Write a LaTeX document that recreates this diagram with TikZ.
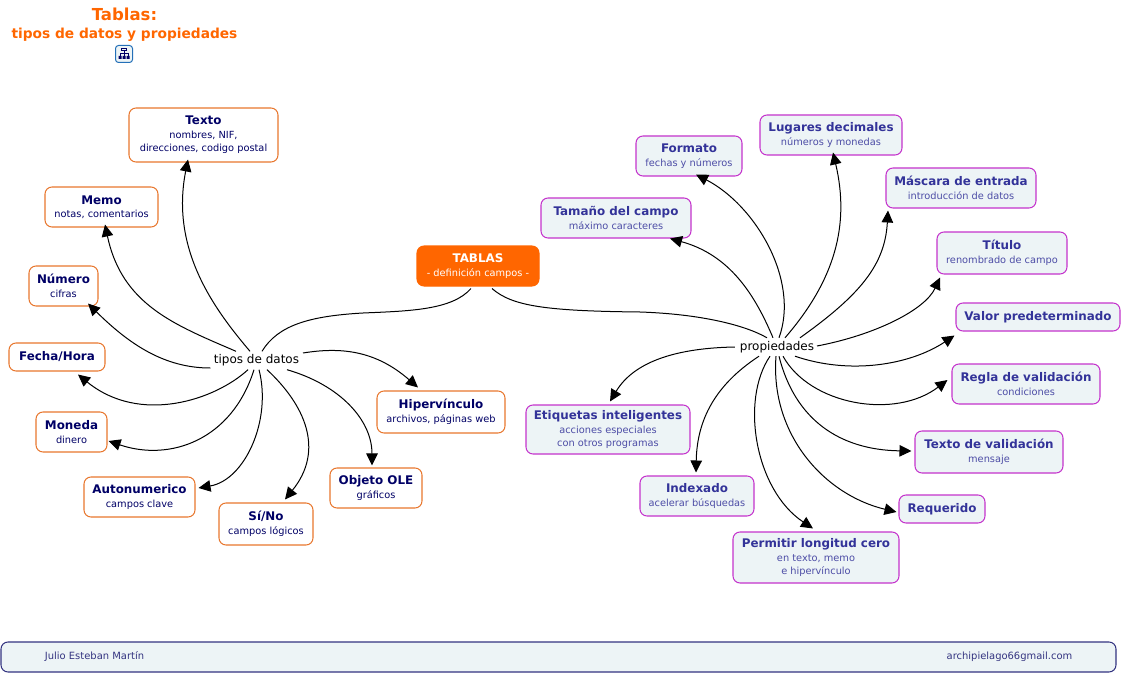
\documentclass[tikz,border=0pt]{standalone}
\usepackage{fontspec}
\setmainfont{DejaVu Sans}
\usetikzlibrary{arrows.meta}
\definecolor{orangeb}{HTML}{E8772E}
\definecolor{tablasor}{HTML}{FF6600}
\definecolor{navyt}{HTML}{000066}
\definecolor{magb}{HTML}{C433CC}
\definecolor{pfill}{HTML}{EDF4F6}
\definecolor{ptitle}{HTML}{333399}
\definecolor{psub}{HTML}{4D4DA6}
\definecolor{footb}{HTML}{333380}
\newcommand{\ttl}[1]{{\fontsize{11.9}{13.5}\selectfont\bfseries #1}}
\tikzset{
 x=1pt,y=-1pt,
 base/.style={rounded corners=7pt,inner sep=0pt,align=center,line width=1.05pt,font=\fontsize{9.8}{13.5}\selectfont},
 orbox/.style={base,draw=orangeb,fill=white,text=navyt},
 pubox/.style={base,draw=magb,fill=pfill,text=psub},
 hub/.style={inner sep=0pt,minimum width=92pt,minimum height=18pt,text=black,font=\fontsize{12}{14}\selectfont},
 conn/.style={draw=black,line width=1pt},
 arr/.style={conn,-{Triangle[length=12pt,width=11.5pt]}},
}
\begin{document}
\begin{tikzpicture}
\useasboundingbox (0,0) rectangle (1122,674);
\node[text=tablasor,font=\fontsize{13.75}{18}\selectfont\bfseries,align=center,inner sep=0pt] (titulo) at (124.5,24.5)
 {{\fontsize{16.5}{18}\selectfont Tablas:}\\tipos de datos y propiedades};
% icon
\node[draw=ptitle!70!cyan,line width=1pt,fill=pfill,rounded corners=3pt,minimum width=17pt,minimum height=17pt,inner sep=0pt] (icono) at (124,54) {};
\draw[navyt,line width=0.7pt] (121.5,48) rectangle (126.5,50.5) (124,50.5)--(124,53) (120,53)--(128,53) (120,53)--(120,56) (124,53)--(124,56) (128,53)--(128,56);
\fill[navyt] (118.5,56) rectangle (121.5,59) (122.5,56) rectangle (125.5,59) (126.5,56) rectangle (129.5,59);

% central
\node[base,draw=tablasor,fill=tablasor,text=white,minimum width=122pt,minimum height=40pt] (tablas) at (478,266) {\ttl{TABLAS}\\- definición campos -};
\node[hub] (tipos) at (256.5,360.5) {tipos de datos};
\node[hub,minimum width=84pt] (prop) at (777,347) {propiedades};

% orange
\node[orbox,minimum width=149pt,minimum height=54pt] (texto) at (203.5,135) {\ttl{Texto}\\nombres, NIF,\\ direcciones, codigo postal};
\node[orbox,minimum width=113pt,minimum height=40pt] (memo) at (101.5,207) {\ttl{Memo}\\notas, comentarios};
\node[orbox,minimum width=69pt,minimum height=40pt] (numero) at (63.5,286) {\ttl{Número}\\cifras};
\node[orbox,minimum width=96pt,minimum height=28pt] (fecha) at (57,357) {\ttl{Fecha/Hora}};
\node[orbox,minimum width=71pt,minimum height=40pt] (moneda) at (71.5,432) {\ttl{Moneda}\\dinero};
\node[orbox,minimum width=111pt,minimum height=40pt] (auto) at (139.5,497) {\ttl{Autonumerico}\\campos clave};
\node[orbox,minimum width=94pt,minimum height=42pt] (sino) at (266,524) {\ttl{Sí/No}\\campos lógicos};
\node[orbox,minimum width=92pt,minimum height=40pt] (ole) at (376,488) {\ttl{Objeto OLE}\\gráficos};
\node[orbox,minimum width=128pt,minimum height=42pt] (hiper) at (441,412) {\ttl{Hipervínculo}\\archivos, páginas web};

% purple
\newcommand{\pt}[1]{{\color{ptitle}\ttl{#1}}}
\node[pubox,minimum width=106pt,minimum height=40pt] (formato) at (689,156) {\pt{Formato}\\fechas y números};
\node[pubox,minimum width=142pt,minimum height=40pt] (lugares) at (831,135) {\pt{Lugares decimales}\\números y monedas};
\node[pubox,minimum width=150pt,minimum height=40pt] (mascara) at (961,188) {\pt{Máscara de entrada}\\introducción de datos};
\node[pubox,minimum width=130pt,minimum height=42pt] (titu) at (1002,253) {\pt{Título}\\renombrado de campo};
\node[pubox,minimum width=164pt,minimum height=28pt] (valor) at (1038,317) {\pt{Valor predeterminado}};
\node[pubox,minimum width=148pt,minimum height=40pt] (regla) at (1026,384) {\pt{Regla de validación}\\condiciones};
\node[pubox,minimum width=148pt,minimum height=42pt] (tval) at (989,452) {\pt{Texto de validación}\\mensaje};
\node[pubox,minimum width=86pt,minimum height=28pt] (reque) at (942,509) {\pt{Requerido}};
\node[pubox,minimum width=166pt,minimum height=51pt] (permi) at (816,557.5) {\pt{Permitir longitud cero}\\en texto, memo\\ e hipervínculo};
\node[pubox,minimum width=114pt,minimum height=40pt] (index) at (697,496) {\pt{Indexado}\\acelerar búsquedas};
\node[pubox,minimum width=164pt,minimum height=49pt] (etiq) at (608,429.5) {\pt{Etiquetas inteligentes}\\acciones especiales\\con otros programas};
\node[pubox,minimum width=150pt,minimum height=40pt] (tamano) at (616,218) {\pt{Tamaño del campo}\\máximo caracteres};

% footer
\node[base,draw=footb,fill=pfill,minimum width=1115pt,minimum height=30pt] (pie) at (558.5,657) {};
\node[text=footb,font=\fontsize{9.95}{11}\selectfont,inner sep=0pt] (autor) at (94.5,657) {Julio Esteban Martín};
\node[text=footb,font=\fontsize{9.95}{11}\selectfont,inner sep=0pt] (correo) at (1009.5,657) {archipielago66gmail.com};

% tablas links
\draw[conn] ([xshift=-7pt,yshift=-2pt]tablas.south) .. controls (452,310) and (410,311) .. (363,313) .. controls (310,316) and (278,325) .. ([xshift=5.5pt]tipos.north);
\draw[conn] ([xshift=14pt,yshift=-2pt]tablas.south) .. controls (512,306) and (545,311) .. (640,312) .. controls (700,314) and (745,325) .. ([xshift=-10pt]prop.north);

% tipos links
\draw[arr] ([xshift=-6.5pt]tipos.north) .. controls (215,310) and (170,250) .. ([xshift=-15.5pt,yshift=3pt]texto.south);
\draw[arr] ([xshift=-20.5pt]tipos.north) .. controls (175,325) and (122,305) .. ([xshift=3.5pt,yshift=3pt]memo.south);
\draw[arr] ([yshift=-7.5pt]tipos.west) .. controls (165,368) and (130,345) .. ([xshift=24.5pt,yshift=3pt]numero.south);
\draw[arr] ([xshift=-8.5pt]tipos.south) .. controls (215,400) and (140,425) .. ([xshift=21pt,yshift=-3pt]fecha.south);
\draw[arr] ([xshift=-2.5pt]tipos.south) .. controls (232,440) and (170,462) .. ([xshift=1pt,yshift=-9pt]moneda.east);
\draw[arr] ([xshift=2.5pt]tipos.south) .. controls (272,420) and (245,480) .. ([xshift=3pt,yshift=9pt]auto.east);
\draw[arr] ([xshift=10.5pt]tipos.south) .. controls (305,405) and (325,450) .. ([xshift=19pt,yshift=3pt]sino.north);
\draw[arr] ([xshift=30.5pt]tipos.south) .. controls (340,385) and (372,420) .. ([xshift=-4pt,yshift=2pt]ole.north);
\draw[arr] ([xshift=46.5pt,yshift=7.5pt]tipos.center) .. controls (340,347) and (375,350) .. ([xshift=-23pt,yshift=3pt]hiper.north);

% prop links
\draw[arr] ([xshift=-4pt]prop.north) .. controls (755,295) and (730,255) .. ([xshift=54pt,yshift=0pt]tamano.south);
\draw[arr] ([xshift=2pt]prop.north) .. controls (800,280) and (755,205) .. ([xshift=7pt,yshift=2pt]formato.south);
\draw[arr] ([xshift=8pt]prop.north) .. controls (835,280) and (850,225) .. ([xshift=2pt,yshift=3pt]lugares.south);
\draw[arr] ([xshift=23pt]prop.north) .. controls (860,295) and (885,265) .. ([xshift=-73pt,yshift=-2pt]mascara.south);
\draw[arr] ([xshift=40pt,yshift=1pt]prop.center) .. controls (875,335) and (925,310) .. ([xshift=-62pt,yshift=-3pt]titu.south);
\draw[arr] ([xshift=18pt]prop.south) .. controls (850,375) and (910,365) .. ([xshift=-1pt,yshift=-4pt]valor.south west);
\draw[arr] ([xshift=6pt]prop.south) .. controls (810,405) and (895,420) .. ([xshift=-4pt,yshift=4pt]regla.west);
\draw[arr] ([xshift=2pt]prop.south) .. controls (795,420) and (840,450) .. ([xshift=-3pt,yshift=1pt]tval.west);
\draw[arr] ([xshift=-1pt]prop.south) .. controls (770,435) and (825,495) .. ([xshift=-2pt,yshift=-3pt]reque.west);
\draw[arr] ([xshift=-7pt]prop.south) .. controls (740,400) and (755,490) .. ([xshift=-3pt,yshift=3pt]permi.north);
\draw[arr] ([xshift=-18pt]prop.south) .. controls (715,385) and (697,420) .. ([xshift=-1pt,yshift=3pt]index.north);
\draw[arr] ([yshift=0pt]prop.west) .. controls (680,348) and (635,360) .. ([xshift=2pt,yshift=3pt]etiq.north);
\end{tikzpicture}
\end{document}
